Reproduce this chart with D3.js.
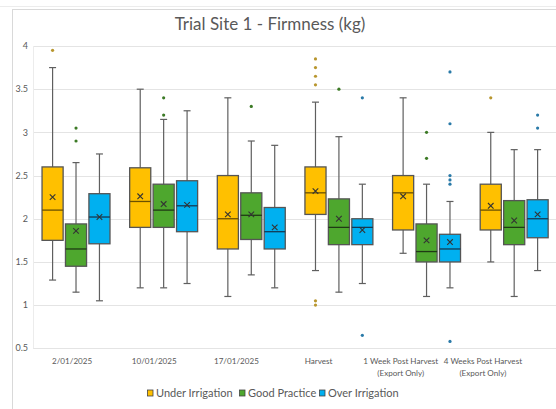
<!DOCTYPE html>
<meta charset='utf-8'>
<style>
  body { margin: 0; background: #fff; }
  text { font-family: Lato, 'Open Sans', sans-serif; fill: #595959; }
</style>
<body>
<script src='https://d3js.org/d3.v7.min.js'></script>
<script>
  const W = 556, H = 409;

  const categories = ['2/01/2025', '10/01/2025', '17/01/2025', 'Harvest',
    '1 Week Post Harvest|(Export Only)', '4 Weeks Post Harvest|(Export Only)'];
  const seriesNames = ['Under Irrigation', 'Good Practice', 'Over Irrigation'];
  const yTicks = [0.5, 1, 1.5, 2, 2.5, 3, 3.5, 4];

  // per category: [whisker low, q1, median, q3, whisker high, mean]
  const underIrrigation = [
    [1.29, 1.75, 2.10, 2.60, 3.75, 2.25],
    [1.20, 1.90, 2.20, 2.59, 3.50, 2.26],
    [1.10, 1.65, 2.00, 2.50, 3.40, 2.05],
    [1.40, 2.05, 2.30, 2.60, 3.35, 2.32],
    [1.60, 1.87, 2.30, 2.50, 3.40, 2.26],
    [1.50, 1.87, 2.10, 2.40, 3.00, 2.15]
  ];
  const goodPractice = [
    [1.15, 1.45, 1.65, 1.94, 2.65, 1.86],
    [1.20, 1.90, 2.10, 2.40, 3.15, 2.17],
    [1.35, 1.76, 2.04, 2.30, 2.90, 2.05],
    [1.15, 1.70, 1.90, 2.23, 2.95, 2.00],
    [1.10, 1.50, 1.62, 1.94, 2.40, 1.75],
    [1.10, 1.70, 1.90, 2.21, 2.80, 1.98]
  ];
  const overIrrigation = [
    [1.05, 1.71, 2.02, 2.29, 2.75, 2.02],
    [1.25, 1.85, 2.15, 2.44, 3.25, 2.16],
    [1.20, 1.65, 1.85, 2.13, 2.85, 1.90],
    [1.25, 1.70, 1.90, 2.00, 2.40, 1.87],
    [1.20, 1.50, 1.65, 1.82, 2.20, 1.73],
    [1.40, 1.78, 2.00, 2.22, 2.80, 2.05]
  ];

  const underOutliers = [[3.95], [], [], [3.85, 3.75, 3.65, 3.55, 1.05, 1.00], [], [3.40]];
  const goodOutliers = [[3.05, 2.90], [3.40, 3.20], [3.30], [3.50], [3.00, 2.70], []];
  const overOutliers = [[], [], [], [3.40, 0.65], [3.70, 3.10, 2.50, 2.45, 2.40, 0.58], [3.20, 3.05]];

  const fills = ['#FFC000', '#4EA72E', '#00B0F0'];
  const medianColors = ['#6b5000', '#1f3a14', '#123a55'];
  const dotColors = ['#b8962e', '#3c7a25', '#2a7aa8'];

  const series = [
    { name: seriesNames[0], stats: underIrrigation, outliers: underOutliers },
    { name: seriesNames[1], stats: goodPractice, outliers: goodOutliers },
    { name: seriesNames[2], stats: overIrrigation, outliers: overOutliers }
  ];

  const svg = d3.select('body').append('svg')
    .attr('width', W)
    .attr('height', H);

  // chart frame
  svg.append('line')
    .attr('x1', 0).attr('x2', W).attr('y1', 6.5).attr('y2', 6.5)
    .attr('stroke', '#ececec');
  svg.append('rect')
    .attr('x', 12.5).attr('y', 9.5)
    .attr('width', W).attr('height', H)
    .attr('fill', '#fff')
    .attr('stroke', '#d9d9d9');

  svg.append('text')
    .attr('x', 270)
    .attr('y', 30)
    .attr('text-anchor', 'middle')
    .style('font-size', '17px')
    .text('Trial Site 1 - Firmness (kg)');

  const y = d3.scaleLinear()
    .domain([0.5, 4])
    .range([348.3, 46]);

  // box positions
  const x0 = d3.scaleBand()
    .domain(d3.range(categories.length))
    .range([32.2, 558]);

  const x1 = d3.scaleBand()
    .domain(d3.range(seriesNames.length))
    .range([0, x0.bandwidth()])
    .paddingInner(0.1)
    .paddingOuter(0.42);

  // category label positions
  const xLab = d3.scaleBand()
    .domain(d3.range(categories.length))
    .range([31, 524]);

  // gridlines
  svg.append('g')
    .selectAll('line')
    .data(yTicks)
    .join('line')
      .attr('x1', 33)
      .attr('x2', W)
      .attr('y1', d => Math.round(y(d)) + 0.5)
      .attr('y2', d => Math.round(y(d)) + 0.5)
      .attr('stroke', '#e4e4e4');

  svg.append('line')
    .attr('x1', 33.5).attr('x2', 33.5)
    .attr('y1', y(4)).attr('y2', y(0.5))
    .attr('stroke', '#ececec');

  svg.append('g')
    .selectAll('text')
    .data(yTicks)
    .join('text')
      .attr('x', 28)
      .attr('y', d => y(d))
      .attr('dy', '0.35em')
      .attr('text-anchor', 'end')
      .style('font-size', '9px')
      .text(d => d);

  const xl = svg.append('g')
    .selectAll('text')
    .data(categories)
    .join('text')
      .attr('x', (d, i) => xLab(i) + xLab.bandwidth() / 2)
      .attr('y', 364)
      .attr('text-anchor', 'middle')
      .style('font-size', '8.1px');

  xl.selectAll('tspan')
    .data(d => d.split('|'))
    .join('tspan')
      .attr('x', function() { return this.parentNode.getAttribute('x'); })
      .attr('dy', (d, i) => i ? 12 : 0)
      .text(d => d);

  // boxes
  const capW = 7;
  series.forEach((s, si) => {
    const g = svg.append('g');
    s.stats.forEach((st, ci) => {
      const [lo, q1, med, q3, hi, mean] = st;
      const bx = x0(ci) + x1(si);
      const bw = x1.bandwidth();
      const cx = bx + bw / 2;

      g.append('line')
        .attr('x1', cx).attr('x2', cx)
        .attr('y1', y(hi)).attr('y2', y(lo))
        .attr('stroke', '#5f5f5f')
        .attr('stroke-width', 1.2);
      [lo, hi].forEach(v => {
        g.append('line')
          .attr('x1', cx - capW / 2).attr('x2', cx + capW / 2)
          .attr('y1', y(v)).attr('y2', y(v))
          .attr('stroke', '#5f5f5f')
          .attr('stroke-width', 1.2);
      });

      g.append('rect')
        .attr('x', bx)
        .attr('y', y(q3))
        .attr('width', bw)
        .attr('height', y(q1) - y(q3))
        .attr('fill', fills[si])
        .attr('stroke', '#555')
        .attr('stroke-width', 1.3);

      g.append('line')
        .attr('x1', bx).attr('x2', bx + bw)
        .attr('y1', y(med)).attr('y2', y(med))
        .attr('stroke', medianColors[si])
        .attr('stroke-width', 1.3);

      const my = y(mean), m = 2.8;
      g.append('path')
        .attr('d', `M${cx - m},${my - m}L${cx + m},${my + m}M${cx - m},${my + m}L${cx + m},${my - m}`)
        .attr('stroke', '#333')
        .attr('stroke-width', 1.1);

      g.selectAll(null)
        .data(s.outliers[ci])
        .join('circle')
          .attr('cx', cx)
          .attr('cy', d => y(d))
          .attr('r', 1.6)
          .attr('fill', dotColors[si]);
    });
  });

  // legend
  const legendX = [147, 239, 319];
  const lg = svg.append('g')
    .selectAll('g')
    .data(seriesNames)
    .join('g')
      .attr('transform', (d, i) => `translate(${legendX[i]}, 393)`);

  lg.append('rect')
    .attr('x', 0.5).attr('y', -3)
    .attr('width', 5.5).attr('height', 6)
    .attr('fill', (d, i) => fills[i])
    .attr('stroke', '#444')
    .attr('stroke-width', 0.8);

  lg.append('text')
    .attr('x', 9)
    .attr('dy', '0.36em')
    .style('font-size', '11px')
    .text(d => d);
</script>
